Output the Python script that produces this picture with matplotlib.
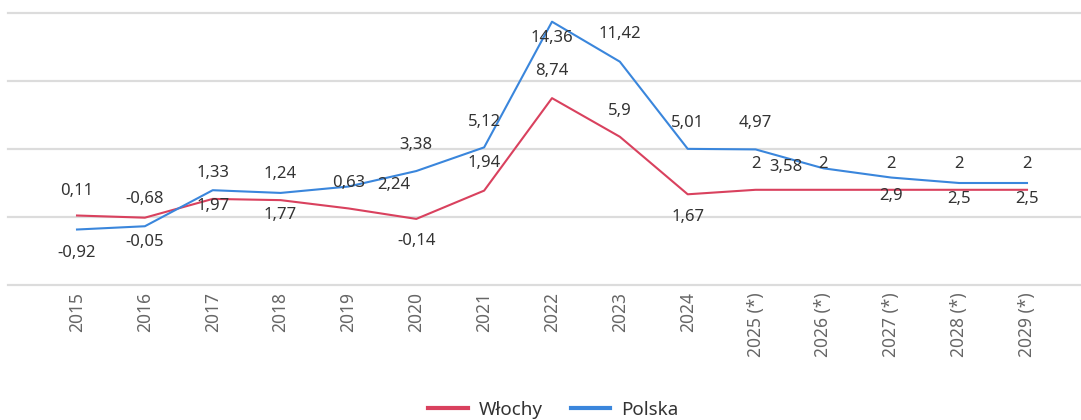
import matplotlib
matplotlib.use("Agg")
import matplotlib.pyplot as plt

plt.rcParams['font.family'] = ['Noto Sans', 'DejaVu Sans']

years = ['2015', '2016', '2017', '2018', '2019', '2020', '2021', '2022', '2023',
         '2024', '2025 (*)', '2026 (*)', '2027 (*)', '2028 (*)', '2029 (*)']
wlochy = [0.11, -0.05, 1.33, 1.24, 0.63, -0.14, 1.94, 8.74, 5.9, 1.67, 2, 2, 2, 2, 2]
polska = [-0.92, -0.68, 1.97, 1.77, 2.24, 3.38, 5.12, 14.36, 11.42, 5.01, 4.97, 3.58, 2.9, 2.5, 2.5]

# label offsets in pixels (dx, dy), screen y goes up
off_w = [(0, 25), (0, -24), (0, 26), (0, 26), (0, 25), (0, -22), (0, 28), (0, 27),
         (0, 26), (0, -23), (0, 26), (0, 26), (0, 26), (0, 26), (0, 26)]
off_p = [(0, -23), (0, 27), (0, -16), (0, -22), (45, 2), (0, 26), (0, 25), (0, -16),
         (0, 28), (0, 26), (0, 26), (-37, 1), (0, -18), (0, -16), (0, -16)]

red = '#d9415e'
blue = '#3a86dc'

fig = plt.figure(figsize=(10.81, 4.20), dpi=100)
ax = fig.add_axes([8 / 1081, 135 / 420, 1073 / 1081, 272 / 420])

x = list(range(len(years)))
lw, = ax.plot(x, wlochy, color=red, lw=1.5, label='Włochy')
lp, = ax.plot(x, polska, color=blue, lw=1.5, label='Polska')

def fmt(v):
    return f"{v:g}".replace('.', ',')

for vals, offs in [(wlochy, off_w), (polska, off_p)]:
    for xi, v, (dx, dy) in zip(x, vals, offs):
        ax.annotate(fmt(v), (xi, v), xytext=(dx, dy), textcoords='offset pixels',
                    ha='center', va='center', fontsize=12, color='#333333')

ax.set_xlim(-1.017, 14.796)
ax.set_ylim(-5, 15)
ax.set_yticks([-5, 0, 5, 10, 15])
ax.grid(axis='y', color='#dcdcdc', lw=1.6)
for g in ax.get_ygridlines():
    g.set_clip_on(False)
ax.set_axisbelow(True)
ax.tick_params(axis='y', left=False, labelleft=False)
ax.set_xticks(x)
ax.set_xticklabels(years, rotation=90, fontsize=12.5, color='#666666')
ax.tick_params(axis='x', length=0, pad=5)
for s in ax.spines.values():
    s.set_visible(False)

leg = fig.legend(handles=[lw, lp], loc='center', bbox_to_anchor=(0.512, 0.024),
                 ncol=2, frameon=False, fontsize=13.5, handlelength=2.1,
                 columnspacing=1.5, handletextpad=0.6)
for h in leg.legend_handles:
    h.set_linewidth(3)
for t in leg.get_texts():
    t.set_color('#333333')

fig.savefig('out.png', dpi=100)
